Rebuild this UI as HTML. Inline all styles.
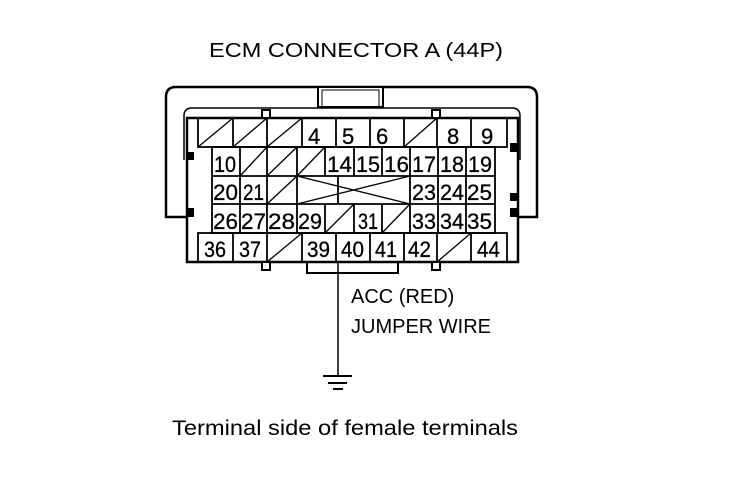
<!DOCTYPE html>
<html><head><meta charset="utf-8"><style>html,body{margin:0;padding:0;background:#fff}svg{display:block}text{font-family:"Liberation Sans",sans-serif;fill:#000}</style></head><body>
<svg width="736" height="480" viewBox="0 0 736 480" xmlns="http://www.w3.org/2000/svg">
<text x="209" y="57" font-size="20" textLength="294" lengthAdjust="spacingAndGlyphs">ECM CONNECTOR A (44P)</text>
<g fill="none" stroke="#000">
<path d="M187 217 H166 V97 Q166 87 176 87 H527 Q537 87 537 97 V217 H518" stroke-width="2.5"/>
<path d="M184 160 V116 Q184 108 192 108 H512 Q520 108 520 116 V160" stroke-width="1.5"/>
<rect x="318" y="87" width="65" height="20" fill="#fff" stroke-width="2"/>
<rect x="322" y="90" width="57" height="17" stroke-width="1"/>
<rect x="187" y="118" width="331" height="144" fill="#fff" stroke-width="2.5"/>
<path d="M307 262 V273 H398 V262" stroke-width="2"/>
</g>
<g fill="#fff" stroke="#000" stroke-width="2">
<rect x="262" y="110" width="8" height="8"/><rect x="432" y="110" width="8" height="8"/>
<rect x="262" y="262" width="8" height="8"/><rect x="432" y="262" width="8" height="8"/>
</g>
<g fill="#000">
<rect x="187" y="152" width="7" height="8"/><rect x="187" y="208" width="7" height="9"/>
<rect x="510" y="143" width="8" height="9"/><rect x="510" y="193" width="8" height="8"/><rect x="510" y="208" width="8" height="9"/>
</g>
<g fill="none" stroke="#000" stroke-width="1.8">
<rect x="198" y="118" width="309" height="29"/>
<path d="M233 118V147M267 118V147M302 118V147M336 118V147M370 118V147M404 118V147M437 118V147M471 118V147"/>
<path d="M198 147L233 118M233 147L267 118M267 147L302 118M404 147L437 118" stroke-width="1.3"/>
<rect x="212" y="147" width="283" height="86"/>
<path d="M212 176H495M212 204H495"/>
<path d="M240 147V233M267 147V233M297 147V233M410 147V233M438 147V233M466 147V233"/>
<path d="M325 147V176M354 147V176M382 147V176M325 204V233M354 204V233M382 204V233M338 176V204"/>
<path d="M240 176L267 147M267 176L297 147M297 176L325 147M267 204L297 176M297 176L410 204M297 204L410 176M325 233L354 204M382 233L410 204" stroke-width="1.3"/>
<rect x="198" y="233" width="309" height="29"/>
<path d="M233 233V262M267 233V262M302 233V262M336 233V262M370 233V262M404 233V262M437 233V262M471 233V262"/>
<path d="M267 262L302 233M437 262L471 233" stroke-width="1.3"/>
<path d="M338 262V376" stroke-width="1.5"/>
<path d="M323 376H352M328 383H347M333 389H343" stroke-width="2"/>
</g>
<g font-size="22" stroke="#000" stroke-width="0.3">
<text x="308" y="144">4</text><text x="342" y="144">5</text><text x="376" y="144">6</text><text x="447" y="144">8</text><text x="481" y="144">9</text>
<text x="214" y="172" textLength="22" lengthAdjust="spacingAndGlyphs">10</text>
<text x="327" y="172" textLength="25" lengthAdjust="spacingAndGlyphs">14</text><text x="356" y="172" textLength="24" lengthAdjust="spacingAndGlyphs">15</text><text x="384" y="172" textLength="25" lengthAdjust="spacingAndGlyphs">16</text><text x="412" y="172" textLength="24" lengthAdjust="spacingAndGlyphs">17</text><text x="440" y="172" textLength="24" lengthAdjust="spacingAndGlyphs">18</text><text x="468" y="172" textLength="24" lengthAdjust="spacingAndGlyphs">19</text>
<text x="213" y="200" textLength="25" lengthAdjust="spacingAndGlyphs">20</text><text x="243" y="200" textLength="21" lengthAdjust="spacingAndGlyphs">21</text>
<text x="412" y="200" textLength="24" lengthAdjust="spacingAndGlyphs">23</text><text x="440" y="200" textLength="24" lengthAdjust="spacingAndGlyphs">24</text><text x="467" y="200" textLength="25" lengthAdjust="spacingAndGlyphs">25</text>
<text x="213" y="229" textLength="25" lengthAdjust="spacingAndGlyphs">26</text><text x="241" y="229" textLength="25" lengthAdjust="spacingAndGlyphs">27</text><text x="268" y="229" textLength="27" lengthAdjust="spacingAndGlyphs">28</text><text x="298" y="229" textLength="24" lengthAdjust="spacingAndGlyphs">29</text><text x="358" y="229" textLength="20" lengthAdjust="spacingAndGlyphs">31</text>
<text x="412" y="229" textLength="24" lengthAdjust="spacingAndGlyphs">33</text><text x="440" y="229" textLength="24" lengthAdjust="spacingAndGlyphs">34</text><text x="467" y="229" textLength="25" lengthAdjust="spacingAndGlyphs">35</text>
<text x="204" y="257" textLength="22" lengthAdjust="spacingAndGlyphs">36</text><text x="239" y="257" textLength="22" lengthAdjust="spacingAndGlyphs">37</text><text x="307" y="257" textLength="23" lengthAdjust="spacingAndGlyphs">39</text><text x="341" y="257" textLength="23" lengthAdjust="spacingAndGlyphs">40</text><text x="375" y="257" textLength="22" lengthAdjust="spacingAndGlyphs">41</text><text x="408" y="257" textLength="23" lengthAdjust="spacingAndGlyphs">42</text><text x="477" y="257" textLength="23" lengthAdjust="spacingAndGlyphs">44</text>
</g>
<text x="351" y="303" font-size="20">ACC (RED)</text>
<text x="351" y="333" font-size="20">JUMPER WIRE</text>
<text x="172" y="435" font-size="21" textLength="346" lengthAdjust="spacingAndGlyphs">Terminal side of female terminals</text>
</svg>
</body></html>
